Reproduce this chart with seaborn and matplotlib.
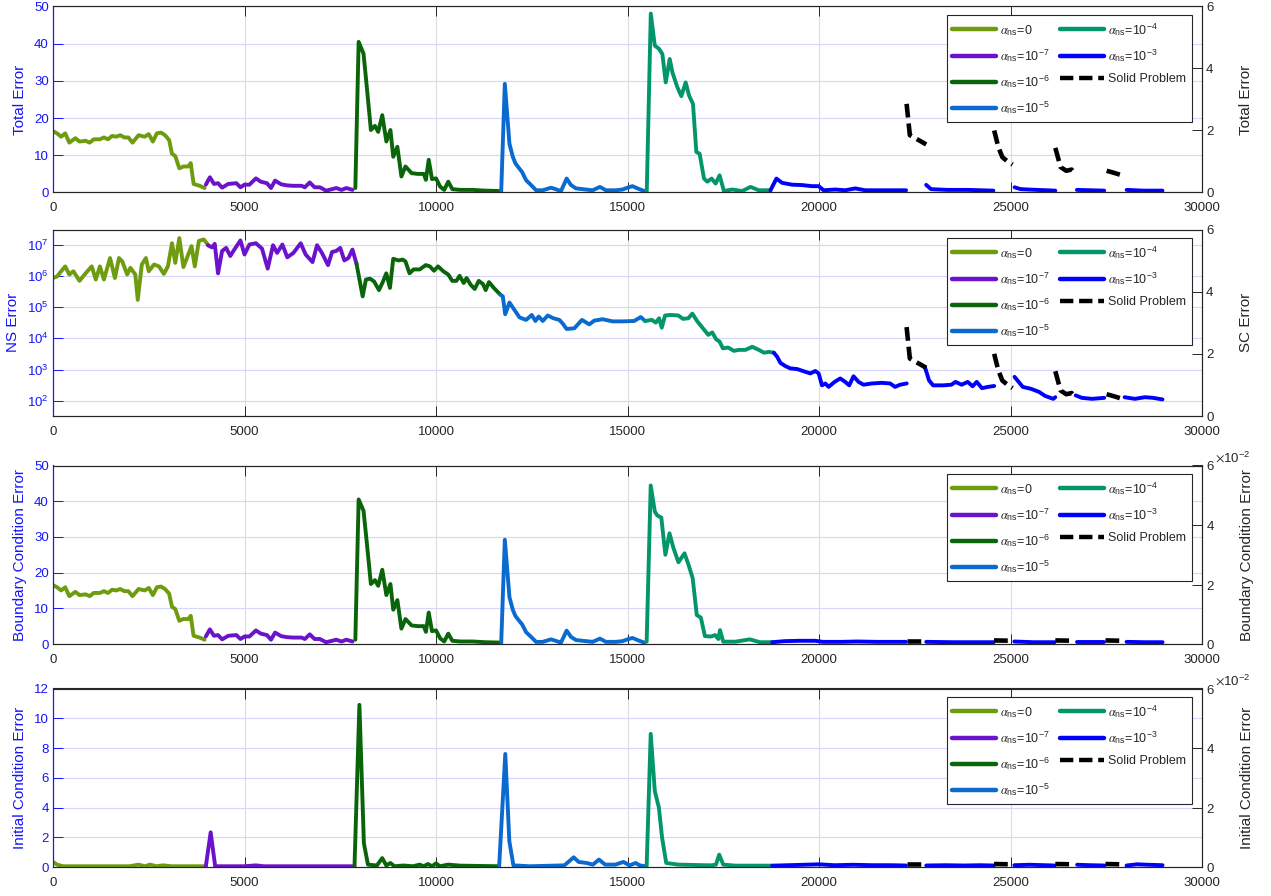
import matplotlib
matplotlib.use("Agg")
import matplotlib.pyplot as plt
import pandas as pd
import seaborn as sns
from matplotlib.lines import Line2D
from matplotlib.ticker import ScalarFormatter, FixedLocator, NullLocator

# ------------------------------------------------------------------ data
X_TICKS = [0, 5000, 10000, 15000, 20000, 25000, 30000]
SERIES = ["a0", "a7", "a6", "a5", "a4", "a3"]
SERIES_LABELS = [r"$\alpha_{\mathdefault{ns}}$=0",
                 r"$\alpha_{\mathdefault{ns}}$=10$^{\mathdefault{-7}}$",
                 r"$\alpha_{\mathdefault{ns}}$=10$^{\mathdefault{-6}}$",
                 r"$\alpha_{\mathdefault{ns}}$=10$^{\mathdefault{-5}}$",
                 r"$\alpha_{\mathdefault{ns}}$=10$^{\mathdefault{-4}}$",
                 r"$\alpha_{\mathdefault{ns}}$=10$^{\mathdefault{-3}}$"]
SOLID_LABEL = "Solid Problem"
SERIES_COLORS = ["#6E9C0E", "#6B12CC", "#0A650A", "#0A6ACF", "#02966A", "#0000FF"]

# ---- Total error (left) ----
TE_A0_X = [0, 106, 213, 319, 426, 585, 692, 851, 958, 1064, 1224, 1330, 1436, 1543, 1649, 1755, 1862, 1968,
           2075, 2234, 2394, 2500, 2607, 2713, 2820, 2926, 3032, 3107, 3192, 3298, 3405, 3533, 3596, 3671, 3830, 3958]
TE_A0_Y = [16.5, 15.9, 15.0, 15.9, 13.4, 14.6, 13.7, 13.9, 13.4, 14.3, 14.3, 14.8, 14.3, 15.2, 15.0, 15.4, 14.8, 14.8,
           13.4, 15.4, 15.0, 15.7, 13.7, 15.9, 16.1, 15.4, 14.1, 10.4, 9.8, 6.5, 7.0, 7.0, 7.9, 2.3, 1.8, 1.2]
TE_A7_X = [3990, 4096, 4203, 4309, 4416, 4575, 4788, 4894, 5000, 5128, 5298, 5426, 5586, 5692, 5798, 5958, 6118,
           6278, 6490, 6575, 6703, 6830, 6969, 7128, 7288, 7394, 7533, 7660, 7820]
TE_A7_Y = [2.1, 4.1, 2.3, 2.5, 1.3, 2.3, 2.5, 1.4, 2.1, 2.1, 3.8, 2.9, 2.5, 1.2, 3.2, 2.2, 1.9,
           1.8, 1.8, 1.4, 2.7, 1.4, 1.4, 0.5, 0.9, 1.2, 0.7, 1.2, 0.7]
TE_A6_X = [7894, 7980, 8108, 8193, 8300, 8406, 8491, 8597, 8704, 8810, 8884, 8991, 9097, 9203, 9363, 9523, 9682,
           9736, 9810, 9895, 10001, 10107, 10214, 10320, 10427, 10640, 10959, 11278, 11651]
TE_A6_Y = [1.2, 40.5, 37.3, 28.4, 16.8, 17.9, 16.3, 20.8, 13.7, 16.8, 9.6, 12.3, 4.3, 7.0, 5.2, 5.0, 5.0,
           3.4, 8.8, 3.6, 3.8, 1.6, 0.7, 2.9, 0.9, 0.7, 0.7, 0.5, 0.4]
TE_A5_X = [11702, 11797, 11918, 12005, 12075, 12179, 12248, 12353, 12483, 12613, 12787, 13004, 13264, 13411, 13524,
           13655, 13915, 14089, 14280, 14436, 14696, 14870, 15000, 15130, 15260, 15434]
TE_A5_Y = [0.2, 29.2, 13.1, 9.6, 7.8, 6.4, 5.5, 3.3, 2.0, 0.6, 0.6, 1.3, 0.4, 3.75, 2.0,
           1.1, 0.8, 0.6, 1.5, 0.6, 0.6, 0.8, 1.3, 1.7, 1.1, 0.4]
TE_A4_X = [15503, 15608, 15712, 15825, 15911, 15998, 16102, 16172, 16302, 16406, 16519, 16606, 16710, 16797, 16884,
           16997, 17083, 17196, 17300, 17405, 17517, 17734, 17995, 18212, 18429, 18733]
TE_A4_Y = [0.4, 48.1, 39.5, 38.6, 37.2, 29.6, 35.9, 32.3, 28.3, 25.9, 29.6, 26.1, 23.8, 10.9, 10.4,
           3.75, 2.9, 3.75, 2.4, 4.6, 0.4, 0.8, 0.4, 1.5, 0.6, 0.6]
TE_A3_X = [[18733, 18889, 19036, 19297, 19557, 19817, 19991, 20121, 20425, 20685, 20946, 21206, 21553, 21987, 22274],
           [22798, 22926, 23351, 23883, 24553],
           [25106, 25266, 25691, 26170],
           [26734, 27447],
           [28032, 28457, 28968]]
TE_A3_Y = [[0.6, 3.75, 2.6, 2.1, 2.0, 1.7, 1.7, 0.6, 0.8, 0.6, 1.1, 0.6, 0.6, 0.6, 0.6],
           [2.05, 0.9, 0.7, 0.7, 0.5],
           [1.4, 0.9, 0.7, 0.5],
           [0.7, 0.5],
           [0.7, 0.5, 0.5]]
# Solid problem (right axis of panels 1 and 2)
SOLID_X = [[22287, 22372, 22500, 22660, 22798],
           [24574, 24681, 24787, 24926, 25053],
           [26170, 26308, 26457, 26595, 26702],
           [27510, 27660, 27872]]
SOLID_Y = [[2.86, 1.85, 1.76, 1.65, 1.55],
           [2.0, 1.47, 1.14, 1.0, 0.9],
           [1.44, 0.82, 0.7, 0.74, 0.58],
           [0.7, 0.65, 0.57]]

# ---- NS error (left, log) ----
NS_A0_X = [0, 106, 213, 319, 426, 532, 692, 851, 1011, 1117, 1224, 1330, 1489, 1617, 1723, 1808, 1936, 2021, 2149,
           2213, 2319, 2426, 2500, 2639, 2766, 2894, 3000, 3107, 3192, 3298, 3405, 3532, 3617, 3702, 3808, 3936, 4042]
NS_A0_Y = [8.5e5, 9.5e5, 1.4e6, 2.0e6, 1.1e6, 1.4e6, 6.9e5, 1.2e6, 2.0e6, 7.6e5, 2.0e6, 7.6e5, 3.7e6, 8.5e5, 3.7e6,
           2.9e6, 1.1e6, 1.8e6, 1.1e6, 1.7e5, 2.3e6, 3.7e6, 1.4e6, 2.3e6, 2.0e6, 1.15e6, 2.0e6, 1.1e7, 2.6e6, 1.6e7,
           1.9e6, 4.8e6, 8.9e6, 2.0e6, 1.3e7, 1.45e7, 1.0e7]
NS_A7_X = [4042, 4149, 4223, 4309, 4415, 4521, 4628, 4734, 4894, 5000, 5127, 5298, 5457, 5606, 5745, 5851, 5989, 6117,
           6277, 6468, 6596, 6776, 6894, 7021, 7181, 7287, 7394, 7500, 7606, 7713, 7819, 7925]
NS_A7_Y = [9.5e6, 8.1e6, 1.05e7, 1.2e6, 6.2e6, 7.8e6, 4.3e6, 6.9e6, 1.35e7, 4.8e6, 1.0e7, 1.1e7, 7.4e6, 1.7e6, 9.5e6,
           5.4e6, 1.0e7, 3.9e6, 5.4e6, 1.1e7, 4.8e6, 2.75e6, 9.5e6, 5.4e6, 2.2e6, 5.8e6, 6.2e6, 7.8e6, 3.1e6, 3.7e6,
           6.9e6, 2.4e6]
NS_A6_X = [7925, 8085, 8170, 8277, 8383, 8511, 8617, 8702, 8798, 8883, 9021, 9128, 9202, 9309, 9415, 9574, 9734, 9840,
           9947, 10053, 10191, 10319, 10425, 10532, 10617, 10723, 10798, 10904, 11010, 11117, 11223, 11297, 11383,
           11510, 11680]
NS_A6_Y = [2.4e6, 2.2e5, 7.6e5, 8.1e5, 6.6e5, 3.5e5, 6.6e5, 1.2e6, 4.1e5, 3.5e6, 3.1e6, 3.3e6, 2.9e6, 1.2e6, 1.6e6,
           1.6e6, 2.2e6, 2.0e6, 1.45e6, 2.0e6, 1.4e6, 1.1e6, 6.9e5, 6.9e5, 1.0e6, 5.9e5, 8.5e5, 5.2e5, 3.8e5, 6.9e5,
           5.5e5, 3.5e5, 6.3e5, 4.1e5, 2.5e5]
NS_A5_X = [11680, 11745, 11806, 11918, 12049, 12179, 12353, 12500, 12595, 12682, 12787, 12917, 13064, 13221, 13307,
           13411, 13611, 13811, 14002, 14132, 14349, 14609, 14870, 15174, 15347, 15460]
NS_A5_Y = [2.5e5, 2.2e5, 5.9e4, 1.4e5, 8.1e4, 4.7e4, 3.9e4, 5.6e4, 3.6e4, 5.0e4, 3.6e4, 5.4e4, 4.4e4, 3.9e4, 3.0e4,
           2.0e4, 2.1e4, 3.9e4, 2.8e4, 3.7e4, 4.1e4, 3.5e4, 3.5e4, 3.6e4, 4.8e4, 3.6e4]
NS_A4_X = [15460, 15634, 15738, 15825, 15894, 15981, 16128, 16328, 16450, 16589, 16693, 16823, 16970, 17109, 17213,
           17317, 17404, 17491, 17630, 17777, 17908, 18081, 18255, 18429, 18559, 18689, 18819]
NS_A4_Y = [3.6e4, 3.9e4, 3.2e4, 4.4e4, 2.2e4, 5.4e4, 5.6e4, 5.4e4, 4.2e4, 4.4e4, 6.2e4, 3.5e4, 2.1e4, 1.3e4, 1.55e4,
           9.3e3, 7.9e3, 4.8e3, 5.1e3, 4.0e3, 4.3e3, 4.3e3, 5.4e3, 4.3e3, 3.5e3, 3.7e3, 3.5e3]
NS_A3_X = [[18819, 18906, 18993, 19123, 19253, 19427, 19601, 19774, 19904, 19991, 20078, 20165, 20251, 20407, 20555,
            20685, 20789, 20902, 21033, 21163, 21380, 21640, 21857, 21987, 22117, 22291],
           [22766, 22872, 22979, 23245, 23457, 23564, 23723, 23883, 24011, 24117, 24255, 24415, 24574],
           [25106, 25213, 25319, 25532, 25745, 25904, 26117, 26170],
           [26702, 26862, 27128, 27447],
           [27979, 28245, 28511, 28723, 28968]]
NS_A3_Y = [[3.5e3, 2.6e3, 1.65e3, 1.3e3, 1.1e3, 1.05e3, 890, 760, 910, 760, 316, 363, 282, 407, 525,
            407, 316, 617, 407, 331, 363, 380, 363, 282, 331, 363],
           [1.2e3, 457, 316, 316, 331, 407, 331, 407, 295, 407, 257, 282, 302],
           [589, 407, 282, 245, 195, 145, 117, 132],
           [151, 126, 117, 126],
           [132, 117, 132, 126, 112]]

# ---- Boundary condition error (left) ----
BC_A4_X = [15500, 15606, 15713, 15777, 15883, 15989, 16096, 16202, 16330, 16489, 16596, 16702, 16809, 16915, 17021,
           17181, 17287, 17372, 17415, 17500, 17819, 18191, 18457, 18777]
BC_A4_Y = [0.65, 44.4, 37.1, 36.0, 35.4, 25.0, 31.0, 26.8, 22.9, 25.4, 22.1, 18.4, 8.1, 7.4, 2.2,
           2.1, 2.5, 1.4, 3.9, 0.65, 0.65, 1.3, 0.5, 0.5]
BC_A3_X = [[18777, 19100, 19500, 19900, 20100, 20600, 21000, 21500, 22270],
           [22800, 23500, 24560],
           [25100, 25600, 26150],
           [26740, 27450],
           [28030, 28500, 28970]]
BC_A3_Y = [[0.5, 0.8, 0.9, 0.9, 0.6, 0.6, 0.7, 0.6, 0.6],
           [0.6, 0.5, 0.5],
           [0.7, 0.5, 0.5],
           [0.5, 0.5],
           [0.6, 0.5, 0.5]]
BC_SOLID_X = [[22290, 22770], [24570, 25050], [26170, 26650], [27480, 27870]]
BC_SOLID_Y = [[0.0011, 0.0011], [0.0012, 0.0011], [0.0012, 0.0011], [0.0012, 0.0011]]

# ---- Initial condition error (left) ----
IC_A0_X = [0, 106, 266, 1000, 2000, 2234, 2400, 2532, 2700, 2872, 3100, 3990]
IC_A0_Y = [0.34, 0.16, 0.05, 0.05, 0.05, 0.16, 0.05, 0.16, 0.05, 0.11, 0.05, 0.05]
IC_A7_X = [3990, 4117, 4234, 5000, 5298, 5500, 7872]
IC_A7_Y = [0.05, 2.33, 0.05, 0.05, 0.11, 0.05, 0.05]
IC_A6_X = [7872, 8000, 8117, 8223, 8457, 8596, 8702, 8809, 8915, 9149, 9400, 9574, 9680, 9787, 9900, 10000, 10100,
           10319, 10638, 11649]
IC_A6_Y = [0.05, 10.9, 1.6, 0.16, 0.1, 0.6, 0.1, 0.27, 0.05, 0.1, 0.05, 0.16, 0.05, 0.2, 0.05, 0.25, 0.05,
           0.16, 0.09, 0.05]
IC_A5_X = [11649, 11809, 11915, 12021, 12447, 13351, 13596, 13724, 13936, 14096, 14255, 14415, 14681, 14894, 15053,
           15213, 15319, 15457]
IC_A5_Y = [0.05, 7.6, 1.73, 0.11, 0.05, 0.11, 0.65, 0.34, 0.27, 0.16, 0.5, 0.16, 0.16, 0.34, 0.11,
           0.27, 0.11, 0.05]
IC_A4_X = [15500, 15606, 15713, 15819, 15904, 16011, 16330, 17181, 17309, 17394, 17500, 17819, 18777]
IC_A4_Y = [0.05, 8.95, 5.1, 4.0, 1.95, 0.27, 0.16, 0.11, 0.16, 0.83, 0.16, 0.09, 0.09]
IC_A3_X = [[18777, 19200, 19600, 20000, 20400, 20900, 21400, 21900, 22270],
           [22800, 23300, 23800, 24200, 24560],
           [25100, 25500, 25900, 26150],
           [26740, 27100, 27450],
           [28030, 28300, 28600, 28970]]
IC_A3_Y = [[0.09, 0.12, 0.15, 0.18, 0.12, 0.15, 0.12, 0.12, 0.1],
           [0.1, 0.12, 0.1, 0.12, 0.1],
           [0.12, 0.15, 0.12, 0.1],
           [0.15, 0.12, 0.1],
           [0.1, 0.18, 0.15, 0.12]]
IC_SOLID_X = [[22290, 22770], [24570, 25050], [26170, 26650], [27480, 27870]]
IC_SOLID_Y = [[0.0009, 0.0009], [0.0010, 0.0009], [0.0010, 0.0009], [0.0010, 0.0009]]

LEFT_LABELS = ["Total Error", "NS Error", "Boundary Condition Error", "Initial Condition Error"]
RIGHT_LABELS = ["Total Error", "SC Error", "Boundary Condition Error", "Initial Condition Error"]

# ------------------------------------------------------------------ style
sns.set_theme(style="white")
plt.rcParams["font.family"] = ["Liberation Sans", "DejaVu Sans"]
plt.rcParams["mathtext.fontset"] = "stix"
BLUE = "#1414FF"
DARK = "#262626"
PALETTE = dict(zip(SERIES, SERIES_COLORS))


def frame(pieces):
    rows = []
    for k, (key, xs, ys) in enumerate(pieces):
        rows += [(x, y, key, k) for x, y in zip(xs, ys)]
    return pd.DataFrame(rows, columns=["iteration", "error", "series", "piece"])


def left_pieces(a0, a7, a6, a5, a4, a3x, a3y):
    p = [("a0",) + a0, ("a7",) + a7, ("a6",) + a6, ("a5",) + a5, ("a4",) + a4]
    p += [("a3", xs, ys) for xs, ys in zip(a3x, a3y)]
    return p


def solid_pieces(sx, sy):
    return [("solid", xs, ys) for xs, ys in zip(sx, sy)]


panels = [
    dict(left=left_pieces((TE_A0_X, TE_A0_Y), (TE_A7_X, TE_A7_Y), (TE_A6_X, TE_A6_Y), (TE_A5_X, TE_A5_Y),
                          (TE_A4_X, TE_A4_Y), TE_A3_X, TE_A3_Y),
         right=solid_pieces(SOLID_X, SOLID_Y), ylim=(0, 50), yticks=[0, 10, 20, 30, 40, 50], log=False,
         rlim=(0, 6), rticks=[0, 2, 4, 6], sci=False, top=6.5, bottom=192.5),
    dict(left=left_pieces((NS_A0_X, NS_A0_Y), (NS_A7_X, NS_A7_Y), (NS_A6_X, NS_A6_Y), (NS_A5_X, NS_A5_Y),
                          (NS_A4_X, NS_A4_Y), NS_A3_X, NS_A3_Y),
         right=solid_pieces(SOLID_X, SOLID_Y), ylim=(10 ** 1.52, 10 ** 7.48),
         yticks=[1e2, 1e3, 1e4, 1e5, 1e6, 1e7], log=True,
         rlim=(0, 6), rticks=[0, 2, 4, 6], sci=False, top=229.5, bottom=416),
    dict(left=left_pieces((TE_A0_X, TE_A0_Y), (TE_A7_X, TE_A7_Y), (TE_A6_X, TE_A6_Y), (TE_A5_X, TE_A5_Y),
                          (BC_A4_X, BC_A4_Y), BC_A3_X, BC_A3_Y),
         right=solid_pieces(BC_SOLID_X, BC_SOLID_Y), ylim=(0, 50), yticks=[0, 10, 20, 30, 40, 50], log=False,
         rlim=(0, 0.06), rticks=[0, 0.02, 0.04, 0.06], sci=True, top=465.5, bottom=644),
    dict(left=left_pieces((IC_A0_X, IC_A0_Y), (IC_A7_X, IC_A7_Y), (IC_A6_X, IC_A6_Y), (IC_A5_X, IC_A5_Y),
                          (IC_A4_X, IC_A4_Y), IC_A3_X, IC_A3_Y),
         right=solid_pieces(IC_SOLID_X, IC_SOLID_Y), ylim=(0, 12), yticks=[0, 2, 4, 6, 8, 10, 12], log=False,
         rlim=(0, 0.06), rticks=[0, 0.02, 0.04, 0.06], sci=True, top=688.5, bottom=867),
]

W, H = 1271, 896
fig = plt.figure(figsize=(W / 100, H / 100), dpi=100)
AX_L, AX_R = 53, 1202
DASH = (0, (3.0, 1.3))
sci_axes = []

for i, P in enumerate(panels):
    hpx = P["bottom"] - P["top"]
    ax = fig.add_axes([AX_L / W, 1 - P["bottom"] / H, (AX_R - AX_L) / W, hpx / H])
    if P["log"]:
        ax.set_yscale("log")
    dfl = frame(P["left"])
    sns.lineplot(data=dfl, x="iteration", y="error", hue="series", units="piece", estimator=None,
                 palette=PALETTE, hue_order=SERIES, sort=False, linewidth=2.8, legend=False, ax=ax)
    ax.set_xlim(0, 30000)
    ax.set_ylim(*P["ylim"])
    ax.xaxis.set_major_locator(FixedLocator(X_TICKS))
    ax.yaxis.set_major_locator(FixedLocator(P["yticks"]))
    ax.yaxis.set_minor_locator(NullLocator())
    ax.set_xlabel("")
    ax.set_ylabel(LEFT_LABELS[i], color=BLUE, fontsize=11, labelpad=5)
    ax.set_axisbelow(True)
    ax.yaxis.grid(True, color="#D6D6FA", linewidth=0.8)
    ax.xaxis.grid(True, color="#DCDCDC", linewidth=0.8)
    ax.tick_params(axis="x", which="both", direction="in", top=True, bottom=True, length=7, width=0.7,
                   colors=DARK, labelsize=9.5, pad=7)
    ax.tick_params(axis="y", which="both", direction="in", length=7, width=0.7, colors=BLUE,
                   labelsize=9.5, pad=3)
    for s in ax.spines.values():
        s.set_color(DARK)
        s.set_linewidth(0.8)
    ax.spines["left"].set_color(BLUE)

    ax2 = ax.twinx()
    dfr = frame(P["right"])
    sns.lineplot(data=dfr, x="iteration", y="error", units="piece", estimator=None, color="black",
                 sort=False, linewidth=3.3, linestyle=DASH, legend=False, ax=ax2)
    ax2.set_ylim(*P["rlim"])
    ax2.yaxis.set_major_locator(FixedLocator(P["rticks"]))
    if P["sci"]:
        fmt = ScalarFormatter(useMathText=True)
        fmt.set_powerlimits((-1, 1))
        ax2.yaxis.set_major_formatter(fmt)
        sci_axes.append((ax2, hpx))
    ax2.set_xlabel("")
    ax2.set_ylabel(RIGHT_LABELS[i], color=DARK, fontsize=11, labelpad=18)
    ax2.tick_params(axis="y", direction="in", length=7, width=0.7, colors=DARK, labelsize=9.5, pad=3)
    for s in ax2.spines.values():
        s.set_color(DARK)
        s.set_linewidth(0.8)
    ax2.spines["left"].set_color(BLUE)

    handles = [Line2D([0], [0], color=c, linewidth=3.2) for c in SERIES_COLORS]
    handles.append(Line2D([0], [0], color="black", linewidth=3.2, linestyle=DASH))
    labels = SERIES_LABELS + [SOLID_LABEL]
    leg = ax2.legend(handles, labels, ncol=2, loc="upper right",
                     bbox_to_anchor=(1 - 10 / (AX_R - AX_L), 1 - 8.5 / hpx), borderaxespad=0,
                     fontsize=9, handlelength=3.5, handletextpad=0.35, columnspacing=0.8,
                     labelspacing=0.75, borderpad=0.45, frameon=True, fancybox=False,
                     edgecolor=DARK, framealpha=1)
    leg.get_frame().set_linewidth(0.8)

# place the scale factor (x10^-2) of the right axes like the original, above the right end
fig.canvas.draw()
for ax2, hpx in sci_axes:
    off = ax2.yaxis.get_offset_text()
    txt = off.get_text()
    off.set_visible(False)
    ax2.text(1 + 13 / (AX_R - AX_L), 1 + 1 / hpx, txt, transform=ax2.transAxes, ha="left", va="bottom",
             fontsize=9.5, color=DARK)

fig.savefig("out.png", dpi=100)
